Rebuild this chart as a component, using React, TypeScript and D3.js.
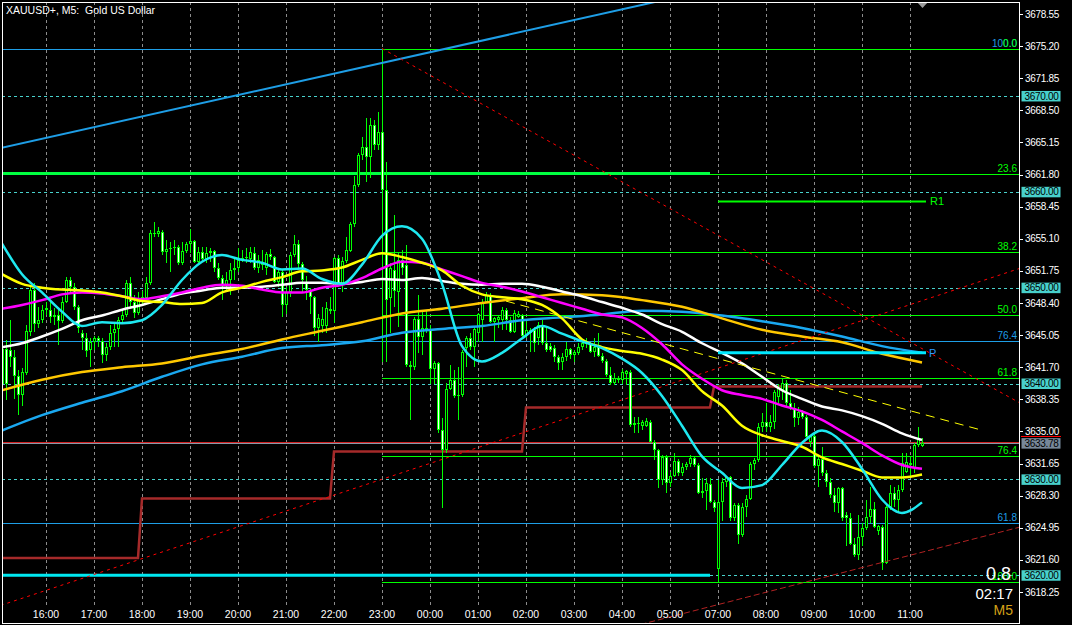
import React from "react";
import * as d3 from "d3";

// ---------------- candle data (M5 bars, index 0 = 15:05) ----------------
const open = [3640.0,3643.6,3643.5,3642.8,3640.8,3638.8,3641.1,3645.4,3649.8,3646.2,3646.6,3647.7,3647.7,3646.9,3647.1,3646.5,3648.5,3650.8,3650.1,3648.0,3645.3,3644.7,3643.5,3644.3,3644.8,3644.4,3643.0,3643.8,3645.3,3645.7,3646.6,3647.2,3650.5,3648.5,3647.4,3648.7,3648.9,3650.5,3655.7,3655.6,3655.8,3653.7,3654.0,3654.1,3654.2,3652.6,3653.8,3654.6,3654.9,3652.7,3653.7,3653.0,3653.6,3653.8,3652.1,3651.0,3650.3,3650.8,3651.8,3652.0,3652.9,3653.1,3653.0,3653.6,3652.1,3652.4,3652.1,3653.5,3653.2,3650.6,3651.6,3648.2,3649.5,3653.4,3654.6,3652.5,3650.6,3649.7,3649.0,3645.8,3646.0,3646.0,3647.8,3647.6,3653.1,3650.3,3652.8,3653.8,3656.6,3660.7,3663.8,3664.7,3663.6,3667.0,3664.9,3666.2,3660.2,3648.9,3651.8,3649.5,3652.9,3652.4,3641.9,3641.7,3646.7,3644.9,3645.6,3645.6,3641.5,3642.1,3635.1,3633.1,3639.4,3640.4,3638.7,3638.8,3643.7,3644.8,3643.8,3645.3,3646.6,3648.5,3649.2,3646.4,3646.6,3646.6,3647.7,3646.6,3645.4,3646.9,3647.1,3645.0,3645.6,3645.6,3644.7,3646.1,3644.2,3643.9,3643.7,3642.8,3642.2,3642.8,3643.6,3643.0,3643.2,3643.8,3644.2,3644.1,3643.3,3643.8,3642.9,3642.3,3640.9,3640.1,3640.4,3640.4,3641.0,3641.2,3635.7,3635.8,3635.6,3635.6,3636.0,3633.9,3633.1,3629.9,3632.3,3629.6,3630.4,3631.9,3630.7,3631.3,3631.6,3632.2,3631.5,3628.6,3628.8,3629.5,3627.6,3620.7,3627.6,3629.7,3630.2,3626.0,3627.3,3624.2,3627.1,3628.0,3631.6,3632.0,3635.5,3636.0,3635.5,3636.0,3638.6,3639.3,3640.1,3638.0,3637.4,3636.4,3637.0,3636.5,3633.9,3634.5,3631.4,3632.1,3630.7,3629.7,3628.4,3627.5,3629.1,3626.3,3626.0,3623.3,3622.1,3624.0,3624.9,3626.1,3626.9,3624.6,3625.0,3621.3,3627.1,3628.6,3627.8,3628.9,3630.8,3631.5,3631.2,3633.6,3633.5];
const high = [3650.8,3644.5,3646.6,3643.5,3641.4,3641.6,3646.1,3650.3,3650.5,3648.0,3648.2,3648.5,3648.7,3647.9,3647.7,3649.0,3651.1,3651.1,3650.5,3648.2,3645.6,3645.3,3644.8,3645.0,3645.0,3644.7,3644.2,3646.1,3646.3,3646.9,3647.7,3650.8,3651.1,3649.2,3649.5,3649.7,3651.1,3656.0,3656.8,3656.3,3656.0,3655.0,3654.8,3655.0,3654.4,3654.8,3654.8,3656.1,3655.0,3654.2,3654.2,3654.2,3654.1,3653.9,3652.6,3651.3,3651.6,3652.6,3653.1,3654.1,3653.9,3654.1,3654.2,3654.2,3653.4,3653.9,3653.7,3654.0,3653.3,3651.8,3651.8,3650.1,3653.7,3655.5,3655.0,3652.7,3651.2,3650.0,3649.1,3647.3,3648.0,3648.5,3649.0,3653.2,3653.4,3653.2,3655.3,3656.8,3661.7,3664.0,3665.7,3667.7,3667.7,3667.5,3668.3,3674.95,3663.1,3652.6,3657.6,3653.6,3653.9,3654.4,3642.4,3646.9,3649.2,3647.7,3647.7,3646.1,3642.4,3642.2,3636.4,3640.1,3641.9,3641.4,3641.7,3643.5,3645.0,3645.3,3645.9,3647.4,3648.8,3649.5,3649.4,3646.9,3647.1,3648.0,3647.9,3646.9,3647.7,3647.6,3647.3,3646.6,3645.8,3645.9,3646.4,3646.6,3646.0,3644.2,3644.0,3643.0,3643.2,3644.3,3643.7,3643.5,3644.2,3644.5,3644.8,3644.3,3644.7,3645.3,3643.2,3642.6,3641.7,3641.1,3640.8,3641.5,3641.4,3641.4,3636.5,3636.5,3636.2,3636.4,3636.2,3634.1,3633.2,3632.5,3632.5,3630.8,3632.8,3632.1,3631.7,3631.8,3632.5,3632.4,3631.7,3630.1,3630.1,3630.1,3627.8,3629.9,3630.1,3630.4,3630.4,3627.5,3627.5,3627.5,3628.4,3631.8,3632.2,3635.9,3636.9,3638.0,3636.7,3639.3,3640.0,3640.6,3640.4,3639.3,3638.0,3637.5,3637.2,3636.7,3634.6,3634.7,3632.5,3633.4,3631.0,3630.1,3629.1,3629.2,3629.2,3626.6,3626.5,3623.9,3626.3,3625.4,3627.8,3629.2,3627.6,3625.2,3625.2,3627.5,3629.4,3629.2,3629.4,3632.7,3632.7,3632.3,3633.8,3635.5,3634.3];
const low = [3639.7,3638.3,3641.7,3638.4,3636.7,3637.7,3640.9,3645.0,3645.4,3645.8,3646.3,3647.1,3646.3,3646.1,3644.0,3646.3,3648.4,3649.5,3647.7,3645.3,3643.5,3642.8,3641.7,3643.5,3643.8,3642.1,3642.4,3643.5,3643.8,3643.8,3646.3,3646.9,3648.0,3646.8,3647.1,3648.2,3648.7,3650.3,3655.3,3655.3,3653.4,3652.6,3651.6,3653.4,3652.4,3652.4,3653.6,3653.6,3652.6,3652.6,3652.7,3652.6,3652.7,3651.6,3650.8,3648.7,3649.7,3649.2,3650.8,3651.6,3652.7,3652.6,3652.6,3651.8,3651.5,3651.8,3651.3,3652.9,3650.5,3650.1,3646.9,3647.3,3649.0,3653.2,3651.8,3649.4,3648.7,3647.3,3645.0,3644.3,3645.3,3645.3,3647.3,3646.3,3650.1,3649.5,3652.6,3653.7,3656.3,3660.5,3663.3,3661.0,3661.4,3664.4,3664.4,3642.2,3642.2,3645.3,3648.0,3645.9,3651.3,3641.7,3636.2,3641.4,3643.2,3643.0,3645.3,3640.0,3640.0,3634.8,3627.0,3632.8,3639.3,3638.5,3636.2,3638.6,3641.7,3643.5,3641.7,3644.3,3644.3,3648.4,3646.3,3644.3,3645.8,3645.6,3645.6,3645.3,3645.3,3646.8,3644.8,3644.8,3643.3,3643.3,3644.0,3644.0,3643.3,3643.3,3642.2,3641.4,3641.4,3642.4,3642.6,3642.2,3643.0,3643.5,3643.7,3643.2,3642.8,3642.8,3642.1,3640.7,3639.8,3639.8,3640.1,3640.0,3639.8,3635.5,3634.8,3634.8,3635.1,3635.5,3633.8,3632.0,3629.1,3629.4,3628.6,3629.2,3630.2,3630.4,3630.4,3631.0,3631.3,3631.3,3628.5,3628.1,3626.8,3627.5,3626.6,3619.3,3625.7,3629.2,3625.7,3625.7,3623.3,3624.0,3626.1,3627.8,3631.0,3631.8,3634.9,3634.9,3634.9,3635.3,3638.0,3638.3,3637.7,3637.2,3635.5,3635.7,3636.3,3634.3,3633.4,3631.2,3629.2,3630.4,3629.2,3628.1,3626.6,3626.5,3625.7,3623.1,3623.2,3621.9,3621.6,3623.1,3624.7,3625.4,3624.9,3624.2,3620.5,3621.2,3626.8,3627.1,3626.6,3628.7,3630.7,3630.4,3630.7,3633.4,3633.4];
const close = [3643.6,3640.0,3642.8,3640.8,3638.8,3641.2,3645.5,3649.8,3646.2,3646.6,3647.7,3647.9,3646.9,3647.1,3646.5,3648.5,3650.8,3650.1,3648.0,3645.8,3644.7,3643.4,3644.3,3644.8,3644.4,3643.0,3643.8,3645.3,3645.7,3646.6,3647.2,3650.5,3648.5,3647.4,3648.7,3649.0,3650.5,3655.7,3655.6,3655.9,3653.7,3654.0,3654.1,3654.2,3652.6,3653.8,3654.6,3654.9,3652.7,3653.7,3653.0,3653.6,3653.8,3652.0,3651.0,3650.3,3650.8,3651.8,3652.0,3652.9,3653.1,3653.2,3653.7,3652.1,3652.9,3652.7,3653.5,3653.2,3650.6,3651.6,3648.2,3649.5,3653.4,3654.6,3652.5,3650.8,3649.8,3649.0,3645.8,3646.8,3646.7,3647.9,3647.6,3653.1,3650.3,3652.8,3653.9,3656.6,3660.7,3663.8,3664.7,3663.6,3667.0,3664.9,3666.2,3660.2,3648.7,3652.0,3649.7,3652.9,3652.1,3641.9,3641.7,3646.7,3644.9,3645.8,3645.8,3641.5,3642.1,3635.1,3633.1,3639.4,3640.4,3638.7,3638.8,3643.3,3644.8,3643.8,3645.7,3647.3,3648.5,3649.2,3646.4,3646.8,3646.9,3647.7,3646.6,3645.4,3647.4,3647.3,3645.0,3645.6,3645.3,3644.2,3646.1,3644.2,3643.5,3643.5,3642.8,3642.1,3642.8,3643.6,3643.0,3643.3,3643.8,3644.2,3644.1,3643.3,3643.8,3642.9,3642.3,3640.9,3640.1,3640.6,3640.6,3641.2,3641.3,3635.7,3635.9,3635.9,3636.0,3636.1,3633.9,3633.1,3629.9,3632.3,3629.6,3630.4,3631.9,3630.7,3631.3,3631.6,3632.2,3631.5,3628.6,3628.8,3629.6,3627.6,3627.0,3627.6,3629.7,3630.2,3626.0,3627.3,3624.2,3627.1,3628.0,3631.6,3632.0,3635.5,3636.0,3635.5,3636.0,3639.1,3639.5,3640.1,3638.0,3637.4,3636.4,3637.0,3636.5,3634.4,3634.5,3631.4,3632.1,3630.7,3629.7,3628.4,3627.5,3629.1,3626.0,3626.0,3623.3,3622.1,3624.0,3624.9,3626.1,3626.9,3625.0,3625.1,3621.3,3627.1,3628.6,3627.8,3628.9,3631.7,3631.8,3631.7,3633.6,3634.3,3633.78];

// ---------------- moving averages (sampled every 5 bars / 10 bars) ----------------
const maCyan = [3654.6,3651.4,3649.5,3647.5,3646.0,3646.4,3646.3,3646.6,3648.2,3650.8,3652.7,3653.4,3652.9,3652.6,3651.9,3652.0,3650.9,3650.4,3652.4,3655.4,3656.4,3655.1,3650.4,3643.9,3642.3,3643.2,3644.7,3646.0,3645.2,3644.4,3643.7,3642.6,3641.1,3638.7,3635.6,3632.4,3630.7,3629.1,3629.4,3631.5,3633.8,3635.1,3633.9,3631.1,3627.9,3626.5,3627.6];
const maYellow = [3651.4,3650.4,3650.0,3649.8,3649.7,3649.5,3649.1,3648.6,3648.5,3648.3,3648.4,3649.5,3650.0,3650.6,3651.1,3651.7,3651.8,3652.1,3652.9,3653.6,3653.2,3652.6,3651.8,3650.2,3649.3,3649.0,3648.8,3648.2,3646.8,3644.6,3643.8,3643.4,3643.1,3642.5,3641.4,3639.2,3637.7,3635.6,3634.6,3634.0,3633.4,3632.3,3631.6,3630.9,3630.2,3630.2,3630.5];
const maMagenta = [3647.8,3648.2,3648.7,3649.3,3649.5,3649.4,3649.1,3648.8,3649.1,3649.5,3650.0,3650.3,3650.2,3649.8,3649.5,3649.5,3650.0,3650.3,3651.0,3652.0,3652.7,3652.6,3651.9,3651.2,3650.5,3650.1,3649.6,3649.0,3648.4,3647.8,3647.2,3646.9,3645.8,3644.1,3642.0,3640.5,3639.3,3638.8,3638.4,3637.7,3637.1,3636.2,3635.0,3633.8,3632.5,3631.5,3631.1];
const maWhite = [3643.8,3644.2,3644.9,3645.7,3646.6,3647.1,3647.7,3648.2,3648.8,3649.4,3649.7,3650.0,3650.0,3650.1,3650.3,3650.5,3650.5,3650.4,3650.6,3650.9,3650.8,3651.0,3650.7,3650.4,3650.3,3650.4,3650.4,3650.1,3649.6,3649.1,3648.5,3647.9,3647.2,3646.2,3645.4,3644.2,3643.2,3642.1,3640.7,3639.3,3638.4,3637.6,3637.2,3636.6,3635.8,3634.8,3634.1];
const maGold = [3639.3,3640.4,3641.2,3641.7,3642.1,3642.9,3643.6,3644.6,3645.5,3646.4,3647.3,3647.8,3648.4,3648.9,3649.3,3649.2,3648.7,3648.0,3646.8,3645.6,3644.9,3644.3,3643.1,3642.2];
const maBlue = [3635.1,3636.7,3638.0,3639.2,3640.7,3642.0,3642.8,3643.7,3644.0,3644.4,3645.3,3645.7,3646.0,3646.6,3646.9,3647.2,3647.6,3647.5,3647.1,3646.5,3645.8,3644.9,3643.9,3643.2];

// ---------------- axes ----------------
const timeLabels = ["16:00","17:00","18:00","19:00","20:00","21:00","22:00","23:00","00:00","01:00","02:00","03:00","04:00","05:00","07:00","08:00","09:00","10:00","11:00"];
const timeBars = [11,23,35,47,59,71,83,95,107,119,131,143,155,167,179,191,203,215,227];
const priceTicks = [3678.55,3675.20,3671.85,3668.50,3665.15,3661.80,3658.45,3655.10,3651.75,3648.40,3645.05,3641.70,3638.35,3635.00,3631.65,3628.30,3624.95,3621.60,3618.25];
const roundLevels = [3670, 3660, 3650, 3640, 3630, 3620];

// ---------------- objects ----------------
const fibLevels = [0, 23.6, 38.2, 50, 61.8, 76.4, 100];
const greenFibBar = 95;
const greenFibHigh = 3674.95;
const greenFibLow = 3619.3;
const blueFibLevels = [100, 76.4, 61.8];
const blueFib100 = 3674.95;
const blueFib0 = 3545.5;
const stepBars = [0, 35, 83, 131, 178];
const stepLevels = [3621.8, 3628.0, 3632.9, 3637.5, 3639.7];
const prevDayHigh = 3661.9;
const prevDayLow = 3620.0;
const prevDayEnd = 177;
const pivotP = 3643.2;
const pivotR1 = 3659.0;
const pivotStart = 179;
const pivotEnd = 231;
const blueTrend = [[0, 3664.6], [160, 3679.5]];
const redDown = [[95, 3674.95], [200, 3650.6]];
const redUp = [[0, 3616.9], [200, 3644.5]];
const brownUp = [[160, 3614.9], [230, 3622.4]];
const yellowDash = [[126, 3648.6], [245.25, 3635.1]];
const bid = 3633.78;

const FONT = "'Liberation Sans', Arial, sans-serif";

export default function App() {
  const x = d3.scaleLinear().domain([0, 254.25]).range([2, 1019]);
  const y = d3.scaleLinear().domain([3618.25, 3678.55]).range([592, 14]);
  const L = 2, R = 1019, T = 2, B = 623;

  const maPath = (arr: number[], step: number) =>
    d3.line<number>().x((_, k) => x(k * step)).y((d) => y(d)).curve(d3.curveMonotoneX)(arr) || "";

  const ray = (pts: number[][], b0: number, b1: number) => {
    const s = d3.scaleLinear().domain([pts[0][0], pts[1][0]]).range([pts[0][1], pts[1][1]]);
    return d3.line<number>().x((b) => x(b)).y((b) => y(s(b)))([b0, b1]) || "";
  };

  const stepPts: [number, number][] = [];
  stepBars.forEach((b, k) => {
    if (k > 0) stepPts.push([b - 1, stepLevels[k - 1]]);
    stepPts.push([b, stepLevels[k]]);
  });
  stepPts.push([230, stepLevels[stepLevels.length - 1]]);
  const stepPath = d3.line<[number, number]>().x((d) => x(d[0])).y((d) => y(d[1]))(stepPts) || "";

  const gFibPrice = (lv: number) => greenFibHigh - (lv / 100) * (greenFibHigh - greenFibLow);
  const bFibPrice = (lv: number) => blueFib0 + (lv / 100) * (blueFib100 - blueFib0);
  const py = (p: number) => Math.round(y(p)) + 0.5;

  const candles = open.map((o, i) => {
    const c = close[i];
    const cx = Math.round(x(i));
    const hi = Math.round(y(Math.max(high[i], o, c)));
    const lo = Math.round(y(Math.min(low[i], o, c)));
    const top = Math.round(y(Math.max(o, c)));
    const bot = Math.round(y(Math.min(o, c)));
    const bh = Math.max(1, bot - top);
    const bull = c >= o;
    return (
      <g key={i}>
        <rect x={cx} y={hi} width={1} height={Math.max(1, lo - hi)} fill="#00ff00" />
        <rect x={cx - 1} y={top} width={3} height={bh} fill="#00ff00" />
        {bh > 2 && <rect x={cx} y={top + 1} width={1} height={bh - 2} fill={bull ? "#000" : "#fff"} />}
      </g>
    );
  });

  const fibLabel = (txt: string, p: number, color: string, key: string) => (
    <text key={key} x={1017} y={py(p) - 3} fill={color} fontSize={10} textAnchor="end" fontFamily={FONT}>{txt}</text>
  );

  return (
    <svg width={1072} height={625} style={{ position: "absolute", left: 0, top: 0, background: "#000" }}>
      <defs>
        <clipPath id="plot"><rect x={L + 1} y={T + 1} width={R - L - 1} height={B - T - 1} /></clipPath>
      </defs>
      <rect x={0} y={0} width={1072} height={625} fill="#000" />
      <g clipPath="url(#plot)">
        {timeBars.map((b, k) => (
          <line key={"g" + k} x1={Math.round(x(b)) + 0.5} x2={Math.round(x(b)) + 0.5} y1={T} y2={607} stroke="#8c8c8c" strokeDasharray="3,3" />
        ))}
        {roundLevels.map((p) => (
          <line key={"r" + p} x1={L} x2={R} y1={py(p)} y2={py(p)} stroke="#48d1cc" strokeDasharray="3,3" />
        ))}
        {blueFibLevels.map((lv) => (
          <line key={"bf" + lv} x1={L} x2={R} y1={py(bFibPrice(lv))} y2={py(bFibPrice(lv))} stroke="#1e9ee6" />
        ))}
        {fibLevels.map((lv) => (
          <line key={"gf" + lv} x1={x(greenFibBar)} x2={R} y1={py(gFibPrice(lv))} y2={py(gFibPrice(lv))} stroke="#00ff00" />
        ))}
        <line x1={L} x2={R} y1={py(bid) - 1} y2={py(bid) - 1} stroke="#d02020" />
        <line x1={L} x2={R} y1={py(bid)} y2={py(bid)} stroke="#8a98a8" />
        <line x1={L} x2={x(prevDayEnd)} y1={y(prevDayHigh)} y2={y(prevDayHigh)} stroke="#00ff40" strokeWidth={3} />
        <line x1={L} x2={x(prevDayEnd)} y1={y(prevDayLow)} y2={y(prevDayLow)} stroke="#00e8f0" strokeWidth={3} />
        <path d={stepPath} fill="none" stroke="#a52a2a" strokeWidth={2.5} />
        <g shapeRendering="crispEdges">{candles}</g>
        <path d={maPath(maBlue, 10)} fill="none" stroke="#1aa8f0" strokeWidth={2.5} />
        <path d={maPath(maGold, 10)} fill="none" stroke="#ffc800" strokeWidth={2.5} />
        <path d={maPath(maWhite, 5)} fill="none" stroke="#ffffff" strokeWidth={2.5} />
        <path d={maPath(maMagenta, 5)} fill="none" stroke="#ff00ff" strokeWidth={2.5} />
        <path d={maPath(maYellow, 5)} fill="none" stroke="#ffff00" strokeWidth={2.5} />
        <path d={maPath(maCyan, 5)} fill="none" stroke="#1ee8f0" strokeWidth={2.5} />
        <path d={ray(blueTrend, -2, 200)} stroke="#1e9ee6" strokeWidth={2} fill="none" />
        <path d={ray(redDown, 95, 260)} stroke="#ff0000" strokeDasharray="3,4" fill="none" />
        <path d={ray(redUp, -2, 260)} stroke="#ff0000" strokeDasharray="3,4" fill="none" />
        <path d={ray(brownUp, 140, 260)} stroke="#b22222" strokeDasharray="6,3" fill="none" />
        <path d={ray(yellowDash, yellowDash[0][0], yellowDash[1][0])} stroke="#ffff00" strokeDasharray="9,6" fill="none" />
        <line x1={x(pivotStart)} x2={x(pivotEnd)} y1={y(pivotR1)} y2={y(pivotR1)} stroke="#00ff00" strokeWidth={2} />
        <line x1={x(pivotStart)} x2={x(pivotEnd)} y1={y(pivotP)} y2={y(pivotP)} stroke="#00e8ff" strokeWidth={3} />
        <text x={x(pivotEnd) + 4} y={y(pivotR1) + 4} fill="#00ff00" fontSize={11} fontFamily={FONT}>R1</text>
        <text x={x(pivotEnd) + 3} y={y(pivotP) + 4} fill="#2e9afe" fontSize={11} fontFamily={FONT}>P</text>
        {blueFibLevels.map((lv) => fibLabel(lv.toFixed(1), bFibPrice(lv), "#1e9ee6", "bl" + lv))}
        {fibLevels.map((lv) => fibLabel(lv.toFixed(1), gFibPrice(lv), "#00ff00", "gl" + lv))}
        <polygon points="917,2 928,2 922.5,8" fill="#9a9a9a" />
        <text x={6} y={13.5} fill="#fff" fontSize={10.5} fontFamily={FONT} style={{ whiteSpace: "pre" }}>{"XAUUSD+, M5:  Gold US Dollar"}</text>
        <text x={1011} y={580} fill="#fff" fontSize={18} textAnchor="end" fontFamily={FONT}>0.8</text>
        <text x={1013} y={599} fill="#fff" fontSize={15} textAnchor="end" fontFamily={FONT}>02:17</text>
        <text x={1013} y={615} fill="#d4a017" fontSize={14} textAnchor="end" fontFamily={FONT}>M5</text>
        {timeBars.map((b, k) => (
          <text key={"t" + k} x={x(b)} y={617.5} fill="#fff" fontSize={10.5} textAnchor="middle" fontFamily={FONT}>{timeLabels[k]}</text>
        ))}
      </g>
      <rect x={L + 0.5} y={T + 0.5} width={R - L} height={B - T} fill="none" stroke="#fff" />
      {priceTicks.map((p) => (
        <g key={"p" + p}>
          <line x1={R} x2={R + 4} y1={py(p)} y2={py(p)} stroke="#fff" />
          <text x={R + 6} y={y(p) + 3.6} fill="#fff" fontSize={10} letterSpacing={-0.3} fontFamily={FONT}>{p.toFixed(2)}</text>
        </g>
      ))}
      {roundLevels.map((p) => (
        <g key={"rb" + p}>
          <rect x={1021.5} y={y(p) - 5} width={39} height={10.5} fill="#48d1cc" />
          <text x={1024.5} y={y(p) + 3.6} fill="#000" fontSize={10} letterSpacing={-0.3} fontFamily={FONT}>{p.toFixed(2)}</text>
        </g>
      ))}
      <line x1={1021} x2={1061} y1={py(bid) - 7} y2={py(bid) - 7} stroke="#ff0000" />
      <rect x={1021.5} y={y(bid) - 5} width={39} height={10.5} fill="#778899" />
      <text x={1024.5} y={y(bid) + 3.6} fill="#000" fontSize={10} letterSpacing={-0.3} fontFamily={FONT}>{bid.toFixed(2)}</text>
    </svg>
  );
}
